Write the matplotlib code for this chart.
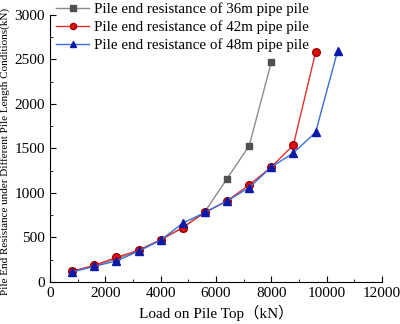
import numpy as np
import matplotlib.pyplot as plt
from matplotlib.ticker import AutoMinorLocator

plt.rcParams['font.family'] = ['Liberation Serif', 'Noto Sans CJK SC']

load = [800, 1600, 2400, 3200, 4000, 4800, 5600, 6400, 7200, 8000, 8800, 9600, 10400]
r36 = [120, 180, 260, 350, 470, 610, 790, 1160, 1530, 2470]
r42 = [120, 185, 275, 355, 475, 610, 780, 910, 1090, 1290, 1540, 2580]
r48 = [110, 175, 235, 345, 470, 660, 780, 910, 1060, 1290, 1450, 1680, 2600]

fig = plt.figure(figsize=(4, 3.24), dpi=100)
ax = fig.add_axes([0.125, 0.13, 0.83, 0.824])

ax.plot(load[:len(r36)], r36, color='#8c8c8c', lw=1, marker='s', ms=5,
        mfc='#505050', mec='#505050', label='Pile end resistance of 36m pipe pile')
ax.plot(load[:len(r42)], r42, color='#e03030', lw=1, marker='o', ms=5.5,
        mfc='#e01010', mec='#a00000', label='Pile end resistance of 42m pipe pile')
ax.plot(load[:len(r48)], r48, color='#3b6fd6', lw=1, marker='^', ms=6,
        mfc='#0a1aa8', mec='#0a1aa8', label='Pile end resistance of 48m pipe pile')

ax.set_xlim(0, 12000)
ax.set_ylim(0, 3000)
ax.set_xticks(np.arange(0, 12001, 2000))
ax.set_yticks(np.arange(0, 3001, 500))
ax.xaxis.set_minor_locator(AutoMinorLocator(2))
ax.yaxis.set_minor_locator(AutoMinorLocator(2))
ax.tick_params(which='both', direction='in', labelsize=11)
ax.tick_params(which='major', length=4)
ax.tick_params(which='minor', length=2)
ax.spines['top'].set_visible(False)
ax.spines['right'].set_visible(False)

ax.set_xlabel('Load on Pile Top（kN）', fontsize=11)
ax.set_ylabel('Pile End Resistance under Different Pile Length Conditions(kN)', fontsize=8)
ax.yaxis.set_label_coords(-0.12, 0.49)

ax.legend(loc='upper left', bbox_to_anchor=(0.14, 0.993), bbox_transform=fig.transFigure,
          frameon=False, fontsize=10.8, handlelength=2.2, handletextpad=0.35,
          labelspacing=0.28, borderaxespad=0, borderpad=0, markerscale=0.8)

fig.savefig('out.png', dpi=100)
